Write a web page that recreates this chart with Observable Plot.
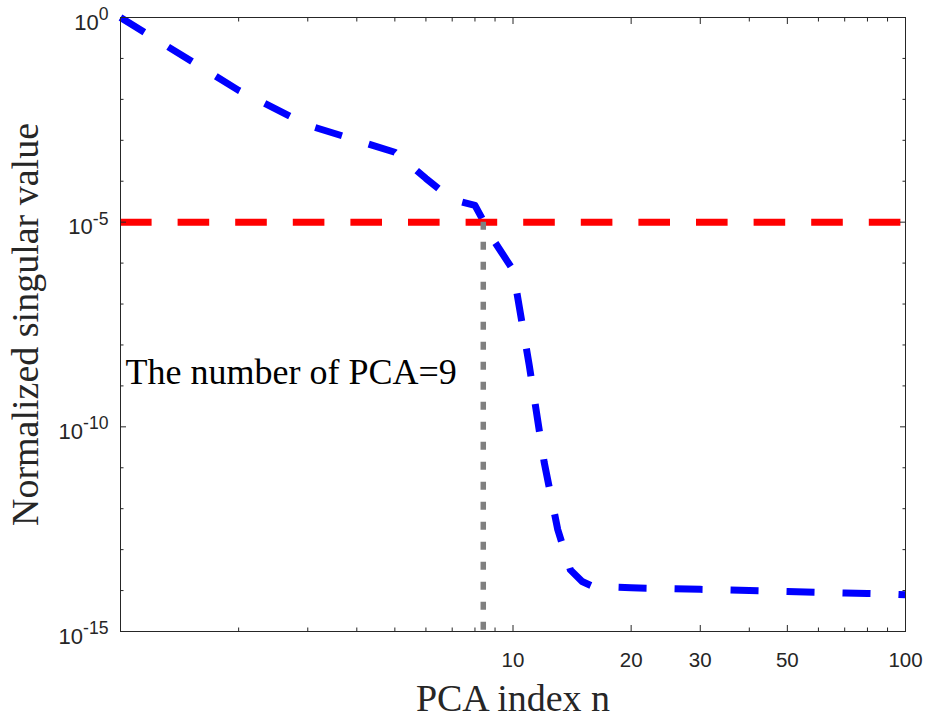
<!DOCTYPE html>
<html><head><meta charset="utf-8">
<script src="https://cdn.jsdelivr.net/npm/d3@7"></script>
<script src="https://cdn.jsdelivr.net/npm/@observablehq/plot@0.6"></script>
<style>
body{margin:0;background:#fff}
#chart{position:absolute;left:0;top:0}
</style>
</head><body><div id="chart"></div>
<script>
// Data
const pcaIndex = [1,2,3,4,5,6,7,8,9,10,11,12,13,14,15,16,20,30,40,50,60,70,80,90,100];
const singularValue = [1, 1.66e-2, 2.34e-3, 1.0e-3, 5.1e-4, 1.17e-4, 3.6e-5, 2.57e-5, 3.2e-6, 6.8e-7,
  3.2e-9, 1.4e-11, 3.1e-13, 3.2e-14, 1.66e-14, 1.26e-14, 1.17e-14, 1.07e-14, 1.0e-14, 9.5e-15,
  9.1e-15, 8.7e-15, 8.5e-15, 8.3e-15, 7.9e-15];
const thresholdValue = [1e-5];
const pcaCutoff = [8.4];
const annotation = ["The number of PCA=9"];
const xLabel = ["PCA index n"];
const yLabel = ["Normalized singular value"];
const xMajorTicks = [10, 20, 30, 50, 100];
const xMinorTicks = [2,3,4,5,6,7,8,9,40,60,70,80,90];
const yMajorTicks = [1, 1e-5, 1e-10, 1e-15];
const yMinorTicks = [1e-1,1e-2,1e-3,1e-4,1e-6,1e-7,1e-8,1e-9,1e-11,1e-12,1e-13,1e-14];

const curve = pcaIndex.map((n, i) => ({n, v: singularValue[i]}));
const axisColor = "#262626";
const serif = "'Times New Roman', 'Liberation Serif', serif";
const fmt = d => `10^${Math.round(Math.log10(d))}`;

const tickAxes = [];
for (const anchor of ["bottom", "top"]) {
  tickAxes.push(Plot.axisX({anchor, ticks: xMinorTicks, tickSize: -3.5, tickFormat: () => "", stroke: axisColor, label: null}));
  tickAxes.push(Plot.axisX({anchor, ticks: xMajorTicks, tickSize: -6, tickFormat: () => "", stroke: axisColor, label: null}));
}
for (const anchor of ["left", "right"]) {
  tickAxes.push(Plot.axisY({anchor, ticks: yMinorTicks, tickSize: -3.5, tickFormat: () => "", stroke: axisColor, label: null}));
  tickAxes.push(Plot.axisY({anchor, ticks: yMajorTicks, tickSize: -6, tickFormat: () => "", stroke: axisColor, label: null}));
}

const plot = Plot.plot({
  width: 927, height: 718,
  marginLeft: 120, marginRight: 22, marginTop: 17, marginBottom: 87,
  style: {fontFamily: "'Liberation Sans', Arial, sans-serif", background: "white", overflow: "visible"},
  x: {type: "log", domain: [1, 100], label: null},
  y: {type: "log", domain: [1e-15, 1], label: null},
  marks: [
    Plot.line(curve, {x: "n", y: "v", stroke: "#0000ff", strokeWidth: 7, strokeDasharray: "28,28", strokeLinejoin: "round", strokeLinecap: "butt"}),
    Plot.ruleY(thresholdValue, {stroke: "#ff0000", strokeWidth: 7, strokeDasharray: "31.6,26"}),
    Plot.ruleX(pcaCutoff, {y1: thresholdValue[0], y2: 1e-15, stroke: "#808080", strokeWidth: 5.5, strokeDasharray: "8,12"}),
    Plot.frame({stroke: axisColor, strokeWidth: 1}),
    ...tickAxes,
    Plot.axisX({anchor: "bottom", ticks: xMajorTicks, tickSize: 0, tickPadding: 21, tickFormat: d => String(d), fontSize: 20.5, fill: axisColor, label: null}),
    Plot.axisY({anchor: "left", ticks: yMajorTicks, tickSize: 0, tickPadding: 12, tickFormat: fmt, fontSize: 22, fill: axisColor, dy: 5, label: null}),
    Plot.text(annotation, {x: [1], y: [Math.pow(10, -8.66)], text: d => d, textAnchor: "start", lineAnchor: "middle", dx: 5, fontSize: 36, fontFamily: serif, fill: "#000"}),
    Plot.text(xLabel, {frameAnchor: "bottom", text: d => d, textAnchor: "middle", lineAnchor: "middle", dy: 67, fontSize: 38, fontFamily: serif, fill: axisColor}),
    Plot.text(yLabel, {frameAnchor: "left", text: d => d, textAnchor: "middle", lineAnchor: "middle", rotate: -90, dx: -95, fontSize: 38, fontFamily: serif, fill: axisColor})
  ]
});

// render exponents as superscripts
const ns = "http://www.w3.org/2000/svg";
plot.querySelectorAll("text").forEach(t => {
  const s = t.textContent;
  if (s.includes("^")) {
    const [b, e] = s.split("^");
    t.textContent = "";
    const t1 = document.createElementNS(ns, "tspan");
    t1.textContent = b;
    const t2 = document.createElementNS(ns, "tspan");
    t2.textContent = e;
    t2.setAttribute("dy", "-0.55em");
    t2.setAttribute("font-size", "0.8em");
    t.append(t1, t2);
  }
});
document.getElementById("chart").append(plot);
</script>
</body></html>
